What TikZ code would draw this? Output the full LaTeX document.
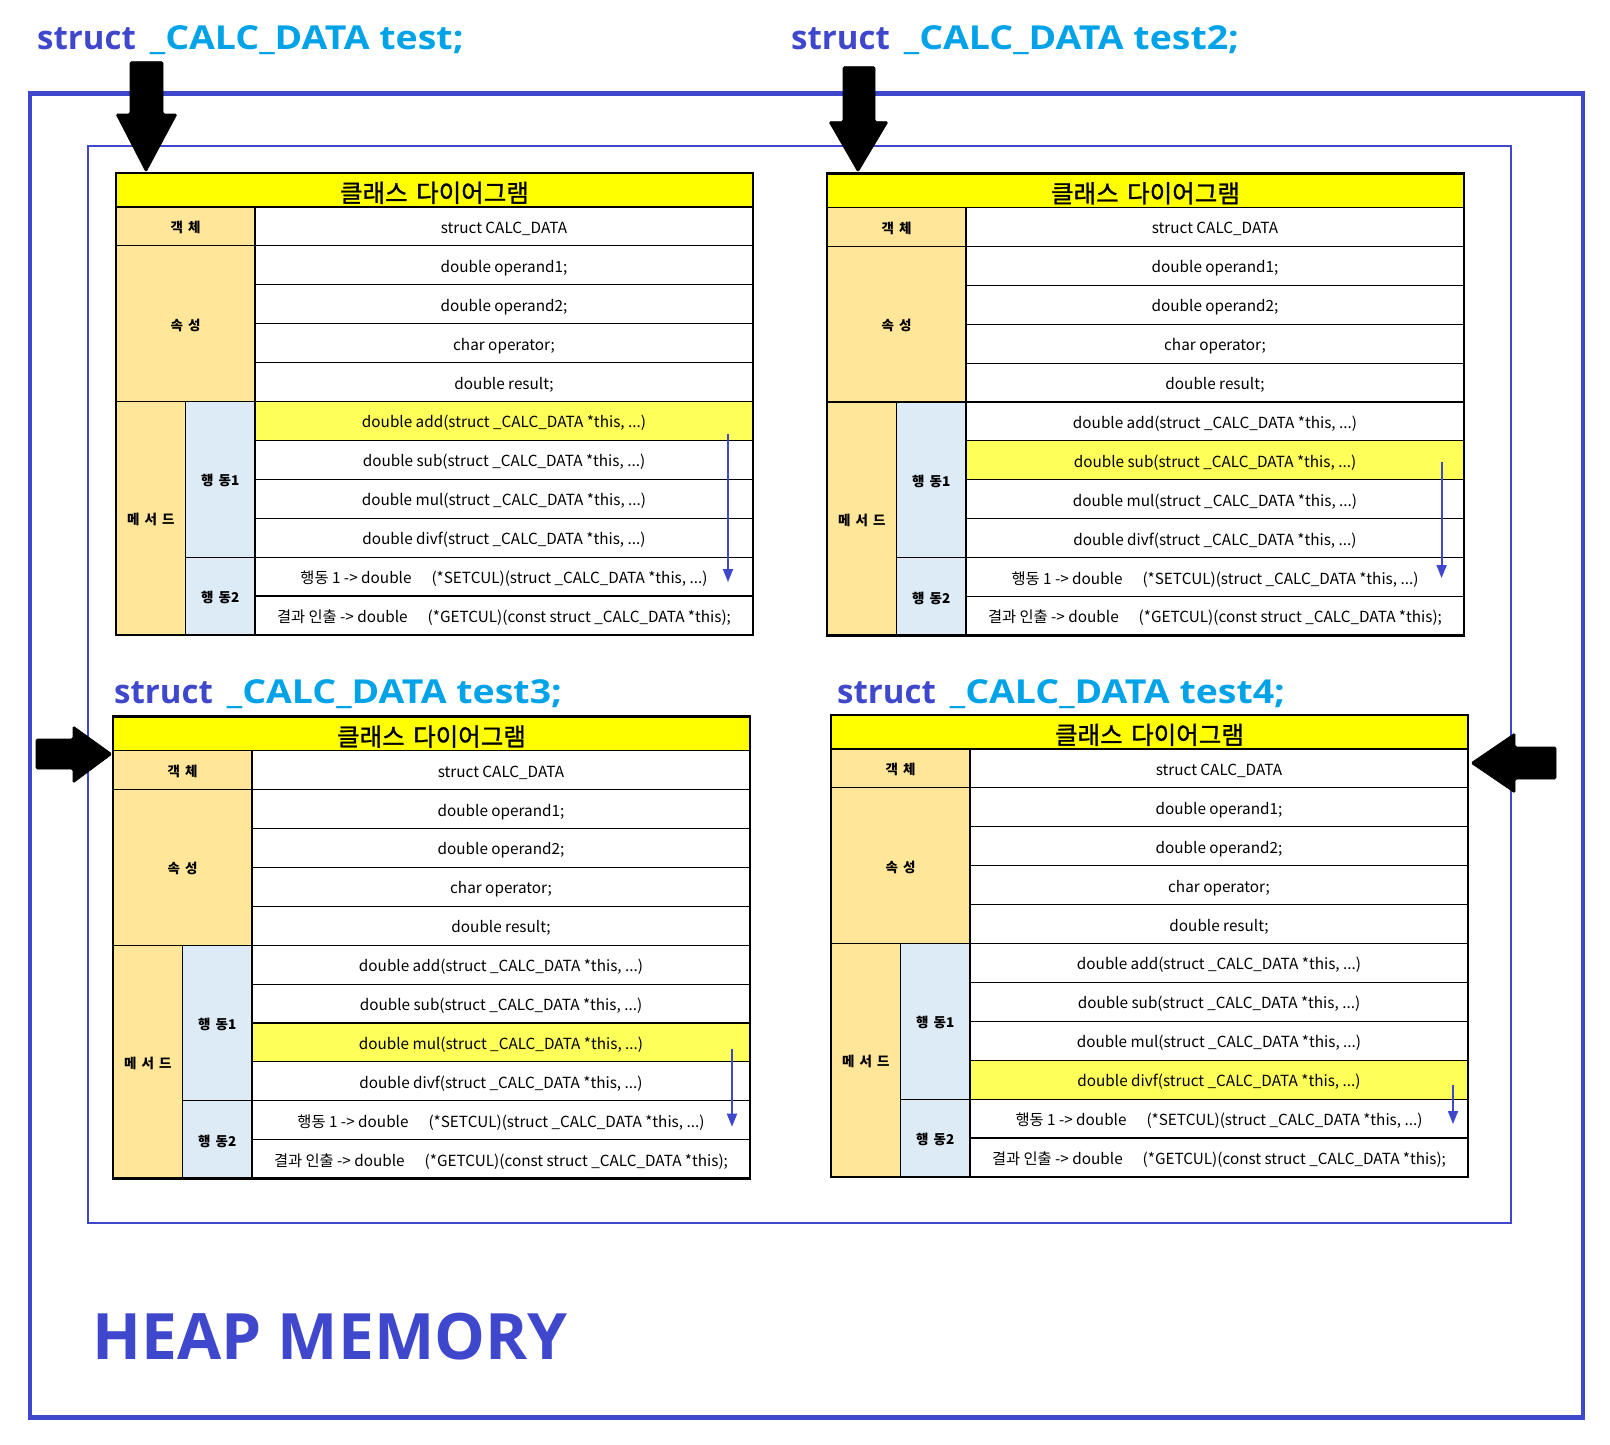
\documentclass[tikz,border=0pt]{standalone}
\usepackage{fontspec}
\setmainfont{Noto Sans CJK KR}
\newfontfamily\titlefont{Open Sans}
\newfontfamily\hdrfont{Noto Sans CJK KR}[FakeBold=1.2]
\usetikzlibrary{arrows.meta}
\definecolor{heapblue}{HTML}{3F48CC}
\definecolor{calcblue}{HTML}{00A2E8}
\definecolor{hdryellow}{HTML}{FFFF00}
\definecolor{hlyellow}{HTML}{FFFF5A}
\definecolor{lblorange}{HTML}{FFE699}
\definecolor{actblue}{HTML}{DDEBF7}
\tikzset{
 cellbox/.style={draw=black, line width=1.1pt, inner sep=0pt, outer sep=0pt, rectangle, anchor=center},
 hdrcell/.style={cellbox, fill=hdryellow, font=\hdrfont\fontsize{24.5}{27}\selectfont, text height=25pt, text depth=1pt},
 lblcell/.style={cellbox, fill=lblorange, font=\bfseries\fontsize{13.5}{16}\selectfont, text height=14pt, text depth=1pt},
 actcell/.style={cellbox, fill=actblue, font=\bfseries\fontsize{13.5}{16}\selectfont, text height=14pt, text depth=1pt},
 txtcell/.style={cellbox, font=\fontsize{15.3}{18}\selectfont, minimum width=498pt, minimum height=38.9pt, text height=16pt, text depth=2pt},
 tblframe/.style={draw=black, line width=2.6pt},
 flowarrow/.style={draw=heapblue, line width=1.8pt, -{Triangle[width=10pt,length=13pt]}},
 pointer/.style={fill=black, draw=black, line width=0.8pt, rounded corners=1.5pt},
 titletext/.style={inner sep=0pt, anchor=base west, font=\titlefont\bfseries\fontsize{33}{38}\selectfont},
 heapframe/.style={draw=heapblue, line width=4.5pt},
 innerframe/.style={draw=heapblue, line width=2pt},
}
\newcommand{\trow}[3]{\node[txtcell] (#1-r#2) at (388,{34+(#2+0.5)*38.9}) {#3};}
\newcommand{\structtitle}[1]{\textcolor{heapblue}{struct}\hspace{14pt}\scalebox{1.135}[1]{\textcolor{calcblue}{\_CALC\_DATA #1;}}}
\newcommand{\classtable}[7]{%
\begin{scope}[shift={(#2,#3)}]
 \fill[white] (0,0) rectangle (637,461.9);
 \fill[hlyellow] (139,{34+#4*38.9}) rectangle (637,{34+(#4+1)*38.9});
 \node[hdrcell, minimum width=637pt, minimum height=34pt] (#1-head) at (318.5,17) {클래스\hspace{3pt} 다이어그램};
 \node[lblcell, minimum width=139pt, minimum height=38.9pt] (#1-obj) at (69.5,53.45) {객\hspace{2pt} 체};
 \node[lblcell, minimum width=139pt, minimum height=155.6pt] (#1-attr) at (69.5,{34+3*38.9}) {속\hspace{2pt} 성};
 \node[lblcell, minimum width=69.5pt, minimum height=233.4pt] (#1-meth) at (34.75,{34+8*38.9}) {메\hspace{2pt} 서\hspace{2pt} 드};
 \node[actcell, minimum width=69.5pt, minimum height=155.6pt] (#1-act1) at (104.25,{34+7*38.9}) {행\hspace{2pt} 동1};
 \node[actcell, minimum width=69.5pt, minimum height=77.8pt] (#1-act2) at (104.25,{34+10*38.9}) {행\hspace{2pt} 동2};
 \trow{#1}{0}{struct CALC\_DATA}
 \trow{#1}{1}{double operand1;}
 \trow{#1}{2}{double operand2;}
 \trow{#1}{3}{char operator;}
 \trow{#1}{4}{double result;}
 \trow{#1}{5}{double add(struct \_CALC\_DATA *this, ...)}
 \trow{#1}{6}{double sub(struct \_CALC\_DATA *this, ...)}
 \trow{#1}{7}{double mul(struct \_CALC\_DATA *this, ...)}
 \trow{#1}{8}{double divf(struct \_CALC\_DATA *this, ...)}
 \trow{#1}{9}{행동 1 -> double\hspace{20pt}(*SETCUL)(struct \_CALC\_DATA *this, ...)}
 \trow{#1}{10}{결과 인출 -> double\hspace{20pt}(*GETCUL)(const struct \_CALC\_DATA *this);}
 \draw[tblframe] (#1-head.north west) rectangle (#1-r10.south east);
 \coordinate (#1-as) at (#5,#6);
 \coordinate (#1-ae) at (#5,#7);
 \draw[flowarrow] (#1-as) -- (#1-ae);
\end{scope}}
\begin{document}
\begin{tikzpicture}[x=1pt,y=-1pt]
\useasboundingbox (0,0) rectangle (1610,1444);
\fill[white] (0,0) rectangle (1610,1444);
% frames
\draw[heapframe] (30,93.5) rectangle (1583,1417.5);
\draw[innerframe] (88,146) rectangle (1510.5,1222.7);
% titles
\node[titletext] (title1) at (37,49) {\structtitle{test}};
\node[titletext] (title2) at (791,49) {\structtitle{test2}};
\node[titletext] (title3) at (114,703) {\structtitle{test3}};
\node[titletext] (title4) at (837,703) {\structtitle{test4}};
% tables
\classtable{ta}{116}{173}{5}{612}{261}{409}
\classtable{tb}{827}{173.5}{6}{614.6}{288.2}{404.5}
\classtable{tc}{113}{716.7}{7}{619}{331.8}{410}
\classtable{td}{831}{715}{8}{622}{370}{409}
% pointer arrows
\filldraw[pointer] (130,61.7) -- (163,61.7) -- (163,114) -- (177,114) -- (146,172) -- (116,114) -- (130,114) -- cycle;
\filldraw[pointer] (843,66.7) -- (875,66.7) -- (875,121.7) -- (888,121.7) -- (858,172) -- (829,121.7) -- (843,121.7) -- cycle;
\filldraw[pointer] (36,739) -- (73,739) -- (73,726) -- (112,754) -- (73,783) -- (73,769) -- (36,769) -- cycle;
\filldraw[pointer] (1556,747) -- (1515,747) -- (1515,733) -- (1471,763) -- (1515,793) -- (1515,779) -- (1556,779) -- cycle;
% heap label
\node[inner sep=0pt, anchor=base west, text=heapblue, font=\titlefont\bfseries\fontsize{64}{70}\selectfont] (heap) at (92,1359) {HEAP MEMORY};
\end{tikzpicture}
\end{document}
